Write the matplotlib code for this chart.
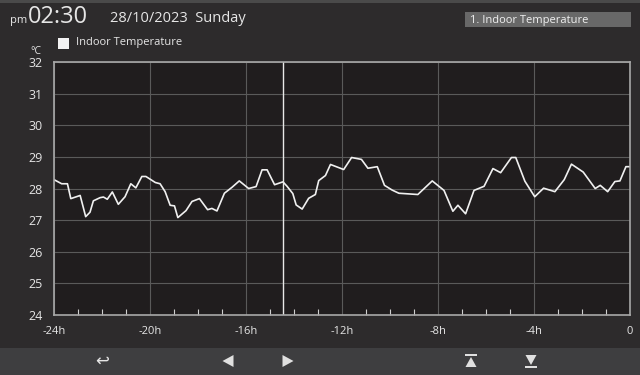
import matplotlib
matplotlib.use("Agg")
import matplotlib.pyplot as plt
from matplotlib.patches import Rectangle, Polygon
import numpy as np

plt.rcParams['font.family'] = ['Open Sans', 'DejaVu Sans']

# hours relative to now, indoor temperature in degC
hours = [-24.0, -23.68, -23.44, -23.30, -22.91, -22.68, -22.50, -22.36, -22.08, -21.94,
         -21.78, -21.57, -21.32, -21.04, -20.80, -20.59, -20.34, -20.17, -19.78, -19.58,
         -19.37, -19.16, -18.98, -18.84, -18.50, -18.25, -17.94, -17.60, -17.42, -17.21,
         -16.90, -16.58, -16.28, -15.89, -15.58, -15.33, -15.12, -14.81, -14.46, -14.29,
         -14.05, -13.91, -13.66, -13.39, -13.11, -12.97, -12.69, -12.48, -11.93, -11.60,
         -11.19, -10.92, -10.53, -10.23, -9.91, -9.63, -8.84, -8.24, -7.75, -7.38,
         -7.17, -6.85, -6.50, -6.08, -5.71, -5.39, -4.94, -4.76, -4.38, -3.97,
         -3.60, -3.13, -2.74, -2.44, -1.95, -1.45, -1.24, -0.93, -0.63, -0.42,
         -0.17, 0.0]
temps = [28.28, 28.15, 28.15, 27.68, 27.78, 27.11, 27.25, 27.61, 27.71, 27.73,
         27.66, 27.89, 27.50, 27.74, 28.15, 28.02, 28.38, 28.38, 28.19, 28.15,
         27.90, 27.47, 27.45, 27.08, 27.30, 27.59, 27.68, 27.33, 27.37, 27.29,
         27.85, 28.04, 28.24, 28.00, 28.06, 28.59, 28.59, 28.12, 28.21, 28.07,
         27.84, 27.48, 27.35, 27.69, 27.81, 28.25, 28.41, 28.76, 28.60, 28.98,
         28.92, 28.64, 28.69, 28.10, 27.95, 27.85, 27.81, 28.24, 27.94, 27.28,
         27.47, 27.20, 27.94, 28.07, 28.63, 28.50, 28.98, 28.98, 28.23, 27.74,
         28.01, 27.90, 28.28, 28.77, 28.52, 28.00, 28.10, 27.90, 28.22, 28.24,
         28.69, 28.69]

cursor_hour = -14.44
x_ticks = [-24, -20, -16, -12, -8, -4, 0]
x_labels = ['-24h', '-20h', '-16h', '-12h', '-8h', '-4h', '0']
y_ticks = [24, 25, 26, 27, 28, 29, 30, 31, 32]

BG = '#2d2b2c'
PLOT_BG = '#201d1e'
TXT = '#e6e6e6'

fig = plt.figure(figsize=(6.4, 3.75), dpi=100, facecolor=BG)
ax = fig.add_axes([54/640, 1-315/375, 576/640, 253/375])
ax.set_facecolor(PLOT_BG)

ax.plot(hours, temps, color='#f0f0f0', lw=1.2)
ax.axvline(cursor_hour, color='#e8e8e8', lw=1.0)

ax.set_xlim(-24, 0)
ax.set_ylim(24, 32)
ax.set_xticks(x_ticks)
ax.set_xticklabels(x_labels)
ax.set_xticks(np.arange(-24, 1, 1), minor=True)
ax.set_yticks(y_ticks)
ax.grid(True, color='#5a5a5a', lw=0.8)
ax.tick_params(axis='x', which='major', length=0, pad=8, labelsize=8, colors=TXT)
ax.tick_params(axis='x', which='minor', direction='in', length=4, color='#cfcfcf', width=0.8)
ax.tick_params(axis='y', length=0, pad=8, labelsize=9, colors=TXT)
for s in ax.spines.values():
    s.set_color('#a8a8a8')
    s.set_linewidth(1.2)

# unit label and legend
fig.text(36/640, 1-52/375, '°C', color=TXT, fontsize=7.5, va='center', ha='center')
fig.patches.append(Rectangle((58/640, 1-49/375), 11/640, 11/375, transform=fig.transFigure,
                             facecolor='#f2f2f2', edgecolor='none'))
fig.text(76/640, 1-43/375, 'Indoor Temperature', color=TXT, fontsize=8, va='center')

# header
fig.patches.append(Rectangle((0, 1-3/375), 1, 3/375, transform=fig.transFigure,
                             facecolor='#4a4a4a', edgecolor='none'))
fig.text(10/640, 1-20/375, 'pm', color=TXT, fontsize=8, va='center')
fig.text(28/640, 1-17/375, '02:30', color=TXT, fontsize=17, va='center')
fig.text(110/640, 1-18/375, '28/10/2023  Sunday', color=TXT, fontsize=10.5, va='center')
fig.patches.append(Rectangle((465/640, 1-27/375), 166/640, 15/375, transform=fig.transFigure,
                             facecolor='#686868', edgecolor='none'))
fig.text(470/640, 1-20/375, '1. Indoor Temperature', color='#f0f0f0', fontsize=8, va='center')

# bottom button bar
fig.patches.append(Rectangle((0, 0), 1, 27/375, transform=fig.transFigure,
                             facecolor='#3e3e40', edgecolor='none'))
fig.text(102/640, 1-361/375, '↩', color=TXT, fontsize=12, va='center', ha='center',
         family='DejaVu Sans')
icon = '#e0e0e0'
def tri(cx, cy, w, h, direction):
    cx, cy = cx/640, 1-cy/375
    w, h = w/640, h/375
    if direction == 'left':
        pts = [(cx-w/2, cy), (cx+w/2, cy+h/2), (cx+w/2, cy-h/2)]
    elif direction == 'right':
        pts = [(cx+w/2, cy), (cx-w/2, cy+h/2), (cx-w/2, cy-h/2)]
    elif direction == 'up':
        pts = [(cx, cy+h/2), (cx-w/2, cy-h/2), (cx+w/2, cy-h/2)]
    else:
        pts = [(cx, cy-h/2), (cx-w/2, cy+h/2), (cx+w/2, cy+h/2)]
    fig.patches.append(Polygon(pts, closed=True, transform=fig.transFigure,
                               facecolor=icon, edgecolor='none'))
tri(228, 361, 11, 12, 'left')
tri(288, 361, 11, 12, 'right')
tri(471, 362, 11, 10, 'up')
fig.patches.append(Rectangle((465/640, 1-356/375), 12/640, 2/375, transform=fig.transFigure,
                             facecolor=icon, edgecolor='none'))
tri(531, 360, 11, 10, 'down')
fig.patches.append(Rectangle((525/640, 1-368/375), 12/640, 2/375, transform=fig.transFigure,
                             facecolor=icon, edgecolor='none'))

fig.savefig('out.png', dpi=100, facecolor=BG)
